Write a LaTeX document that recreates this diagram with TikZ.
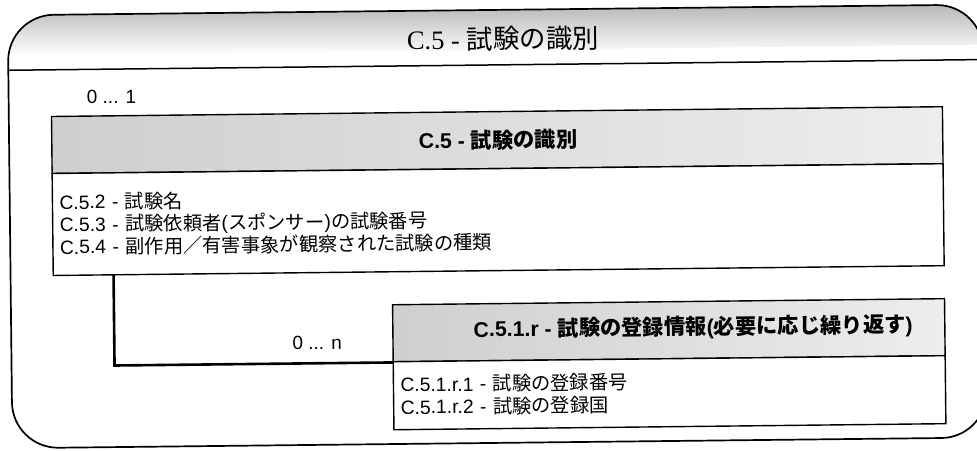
\documentclass[tikz,border=0pt]{standalone}
\usepackage{fontspec}
\setmainfont{Liberation Sans}
\newfontfamily\jpf{Noto Sans CJK JP}
\newfontfamily\serf{Liberation Serif}
\newcommand\J[1]{{\jpf #1}}
\begin{document}
\begin{tikzpicture}[x=1pt,y=-1pt,
  hdrbox/.style={draw=black, line width=1.4pt, left color=black!19, right color=black!7,
     minimum width=#1, minimum height=57pt, inner sep=0pt, anchor=north west, transform shape},
  bodybox/.style={draw=black, line width=1.4pt, fill=white, anchor=north west, inner xsep=7pt, inner ysep=0pt,
     transform shape, align=left},
  bodytxt/.style={font=\fontsize{19.3}{22.5}\selectfont},
  hdrtxt/.style={font=\fontsize{21.3}{25}\selectfont\bfseries, transform shape, inner sep=0pt},
  mult/.style={font=\fontsize{19}{22}\selectfont, anchor=west, inner sep=0pt, transform shape},
  conn/.style={line width=2.6pt, line cap=rect}
]
\fill[white] (0,0) rectangle (977,450);
\useasboundingbox (0,0) rectangle (977,450);
\begin{scope}[rotate around={0.63:(488,225)}]
  % outer frame header shading
  \begin{scope}
    \clip[rounded corners=46pt] (10,10) rectangle (985,443);
    \shade[top color=black!28, bottom color=white] (10,10) rectangle (985,50);
  \end{scope}
  \draw[line width=1.7pt, rounded corners=46pt] (10,10) rectangle (985,443);
  \draw[line width=1.5pt] (10,65) -- (985,65);
  \node[transform shape, inner sep=0pt] (title) at (505,39)
    {\fontsize{26.5}{30}\selectfont\serf C.5 - \J{試験の識別}};
  \node[mult] (m1) at (88,93) {0 ... 1};
  % box 1
  \node[hdrbox=891pt] (h1) at (52,111) {};
  \node[hdrtxt] (h1t) at (499,140) {C.5 - \J{試験の識別}};
  \node[bodybox, text width=877pt, minimum height=102pt, bodytxt] (b1) at (52,168)
    {C.5.2 - \J{試験名}\\
     C.5.3 - \J{試験依頼者}(\J{スポンサー})\J{の試験番号}\\
     C.5.4 - \J{副作用／有害事象が観察された試験の種類}};
  % box 2
  \node[hdrbox=552pt] (h2) at (391,303) {};
  \node[hdrtxt] (h2t) at (692,330) {C.5.1.r - \J{試験の登録情報}(\J{必要に応じ繰り返す})};
  \node[bodybox, text width=538pt, minimum height=68pt, bodytxt] (b2) at (391,360)
    {C.5.1.r.1 - \J{試験の登録番号}\\
     C.5.1.r.2 - \J{試験の登録国}};
  \node[mult] (mn) at (291,341) {0 ... n};
  % connector
  \draw[conn] ([xshift=61pt]b1.south west) |- (h2.south west);
\end{scope}
\end{tikzpicture}
\end{document}
